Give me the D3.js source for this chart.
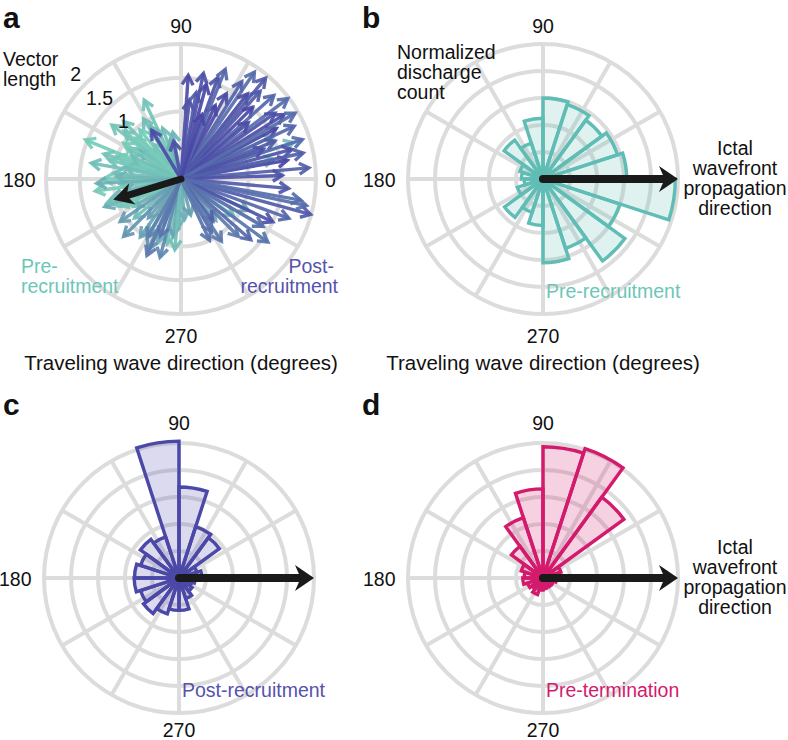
<!DOCTYPE html>
<html><head><meta charset="utf-8">
<script src="https://cdn.jsdelivr.net/npm/d3@7"></script>
<style>body{margin:0;background:#fff}text{font-family:"Liberation Sans",Arial,Helvetica,sans-serif}</style>
</head><body>
<svg id="chart" width="788" height="740"></svg>
<script>
// ---------- DATA ----------
const binStartsDeg = [0,18,36,54,72,90,108,126,144,162,180,198,216,234,252,270,288,306,324,342];
const binWidthDeg = 18;
// normalized discharge counts (outer ring = 1)
const preRecruitment  = [0.62,0.58,0.54,0.58,0.60,0.45,0.28,0.356,0.18,0.16,0.14,0.20,0.352,0.26,0.344,0.62,0.54,0.75,0.60,0.98];
const postRecruitment = [0.17,0.14,0.37,0.40,0.674,1.014,0.32,0.354,0.30,0.33,0.332,0.30,0.326,0.28,0.24,0.24,0.16,0.12,0.10,0.12];
const preTermination  = [0.12,0.14,0.74,1.008,0.972,0.66,0.47,0.29,0.17,0.14,0.15,0.12,0.10,0.13,0.09,0.08,0.07,0.08,0.08,0.10];
const countRings = [0.2,0.4,0.6,0.8,1.0];

// Panel a: traveling-wave vectors (angle in degrees, vector length, colour phase 0=pre ... 1=post)
const preArrowAngles  = [115,122,130,140,150,157.7,162,168,175,160,145,135,185,188,195,203.6,210,220,230,240,250,258,262,268,275,285,110,105,100,128,170,180,200,215,245,18,25,325,310,335,12,148,155,165,178,192,198,205,225,235,255,265,142,120,138,183];
const preArrowLengths = [1.29,1.05,0.95,1.1,0.9,1.53,1.2,0.85,1.0,1.0,0.75,1.2,0.9,1.28,1.05,1.0,0.8,0.9,0.75,0.95,1.0,0.98,0.85,0.7,0.6,0.55,0.8,0.6,0.7,0.65,1.35,1.15,1.2,1.1,1.15,1.75,1.5,0.95,0.8,1.1,1.4,1.0,0.8,1.1,0.95,0.85,1.15,0.9,1.2,1.05,1.2,1.05,1.3,0.9,0.9,1.25];
const preArrowPhase   = [0.05,0.1,0.0,0.05,0.1,0.0,0.05,0.15,0.1,0.0,0.2,0.05,0.1,0.0,0.15,0.05,0.2,0.1,0.3,0.25,0.2,0.05,0.3,0.15,0.2,0.3,0.1,0.2,0.15,0.05,0.1,0.0,0.25,0.35,0.45,0.1,0.2,0.15,0.25,0.3,0.05,0.0,0.1,0.05,0.15,0.2,0.1,0.0,0.4,0.3,0.5,0.1,0.05,0.15,0.0,0.2];
const postArrowAngles  = [86,84,80,75,70,62,58,55.5,52,48,45,42,37,35,32,28,25,22,18,15,10,5,2,355,350,344.7,340,335,330,324,319,315,307,300,295,121,101,246,240,250,65,40,20,78,68,50,30,12,348,303,72];
const postArrowLengths = [1.54,1.17,1.3,1.45,1.6,1.43,1.7,1.92,1.6,1.75,1.5,1.85,1.98,1.7,1.8,1.6,1.85,1.5,1.89,1.7,1.6,1.9,1.5,1.6,1.8,1.99,1.7,1.5,1.4,1.59,1.37,1.2,0.78,0.9,1.0,0.84,0.57,1.24,1.0,0.9,1.2,1.3,1.3,1.6,1.75,1.95,1.95,1.85,1.9,1.1,1.0];
const postArrowPhase   = [0.95,0.9,0.85,1.0,0.9,0.95,0.8,0.7,0.95,0.85,1.0,0.75,0.7,0.9,0.95,1.0,0.75,0.85,0.7,0.9,1.0,0.8,0.9,0.85,0.7,0.85,0.75,0.9,0.7,0.65,0.75,0.6,0.8,0.7,0.65,0.95,0.9,0.6,0.55,0.65,1.0,0.95,0.9,0.9,0.75,0.85,0.7,0.8,0.7,0.6,1.0];
const meanArrowAngle = 197, meanArrowLength = 1.05;
const vectorRings = [0.5,1,1.5,2];
const vectorRingLabels = ["1","1.5","2"];
const vectorRingLabelValues = [1,1.5,2];
const wavefrontAngle = 0;

// ---------- DRAWING ----------
const svg = d3.select("#chart");
const R = 135;
const GRID = "#dcdcdc";
const TEAL = "#5fbdb5", PURPLE = "#4b48a8", PINK = "#d31a6c";
const FS = 19.5;
const rad = d => d * Math.PI / 180;
const polar = (cx, cy, r, deg) => [cx + r * Math.cos(rad(deg)), cy - r * Math.sin(rad(deg))];
const spokes = d3.range(0, 360, 30);

function grid(g, cx, cy, ringRadii) {
  g.selectAll("circle.ring").data(ringRadii).join("circle")
    .attr("cx", cx).attr("cy", cy).attr("r", d => d)
    .attr("fill", "none").attr("stroke", GRID).attr("stroke-width", 4);
  g.selectAll("line.spoke").data(spokes).join("line")
    .attr("x1", cx).attr("y1", cy)
    .attr("x2", d => polar(cx, cy, R, d)[0]).attr("y2", d => polar(cx, cy, R, d)[1])
    .attr("stroke", GRID).attr("stroke-width", 4);
}

function text(g, x, y, s, opts = {}) {
  return g.append("text").attr("x", x).attr("y", y).text(s)
    .attr("font-size", opts.size || FS)
    .attr("font-weight", opts.bold ? "bold" : "normal")
    .attr("text-anchor", opts.anchor || "start")
    .attr("fill", opts.fill || "#111");
}

function bigArrow(g, cx, cy, len, deg, w, headLen, headHalf) {
  const [tx, ty] = polar(cx, cy, len, deg);
  const [sx, sy] = polar(cx, cy, len - headLen + 4, deg);
  g.append("line").attr("x1", cx).attr("y1", cy).attr("x2", sx).attr("y2", sy)
    .attr("stroke", "#1a1a1a").attr("stroke-width", w).attr("stroke-linecap", "round");
  const back = len - headLen;
  const p1 = polar(cx, cy, Math.hypot(back, headHalf), deg + Math.atan2(headHalf, back) * 180 / Math.PI);
  const p2 = polar(cx, cy, back + headLen * 0.3, deg);
  const p3 = polar(cx, cy, Math.hypot(back, headHalf), deg - Math.atan2(headHalf, back) * 180 / Math.PI);
  g.append("polygon").attr("points", [[tx, ty], p1, p2, p3].map(p => p.join(",")).join(" "))
    .attr("fill", "#1a1a1a");
}

function rose(g, cx, cy, values, color) {
  const r = d3.scaleLinear().domain([0, 1]).range([0, R]);
  const arc = d3.arc().innerRadius(0).outerRadius(d => r(d.v))
    .startAngle(d => rad(90 - d.a - binWidthDeg)).endAngle(d => rad(90 - d.a));
  const data = binStartsDeg.map((a, i) => ({ a, v: values[i] }));
  g.append("g").attr("transform", `translate(${cx},${cy})`)
    .selectAll("path").data(data).join("path")
    .attr("d", arc).attr("fill", color).attr("fill-opacity", 0.2)
    .attr("stroke", color).attr("stroke-width", 3.4).attr("stroke-linejoin", "miter");
}

// ----- Panel a -----
{
  const g = svg.append("g");
  const cx = 181, cy = 179;
  const r = d3.scaleLinear().domain([0, 2]).range([0, R]);
  grid(g, cx, cy, vectorRings.map(r));
  const col = d3.interpolateRgb("#76cbb9", "#4a46a6");
  const drawVec = (angles, lens, phase) => {
    angles.forEach((a, i) => {
      const L = r(lens[i]);
      const [tx, ty] = polar(cx, cy, L, a);
      const h = 11;
      const b1 = [tx - h * Math.cos(rad(a - 30)), ty + h * Math.sin(rad(a - 30))];
      const b2 = [tx - h * Math.cos(rad(a + 30)), ty + h * Math.sin(rad(a + 30))];
      const c = col(phase[i]);
      g.append("line").attr("x1", cx).attr("y1", cy).attr("x2", tx).attr("y2", ty)
        .attr("stroke", c).attr("stroke-width", 3.4).attr("stroke-opacity", 0.92);
      g.append("polyline").attr("points", [b1, [tx, ty], b2].map(p => p.join(",")).join(" "))
        .attr("fill", "none").attr("stroke", c).attr("stroke-width", 3.4).attr("stroke-opacity", 0.92)
        .attr("stroke-linejoin", "miter");
    });
  };
  drawVec(preArrowAngles, preArrowLengths, preArrowPhase);
  drawVec(postArrowAngles, postArrowLengths, postArrowPhase);
  bigArrow(g, cx, cy, r(meanArrowLength), meanArrowAngle, 7, 20, 11);
  vectorRingLabels.forEach((s, i) => {
    const [x, y] = polar(cx, cy, r(vectorRingLabelValues[i]) + 14, 135);
    text(g, x, y + 7, s, { anchor: "middle" });
  });
  text(g, 3, 28, "a", { size: 30, bold: true });
  text(g, cx, 33, "90", { anchor: "middle" });
  text(g, 3, 187, "180");
  text(g, 325, 187, "0");
  text(g, cx, 343, "270", { anchor: "middle" });
  text(g, cx, 370, "Traveling wave direction (degrees)", { anchor: "middle", size: 20.5 });
  text(g, 3, 66, "Vector");
  text(g, 3, 86, "length");
  text(g, 21, 273, "Pre-", { fill: "#6cc6b8" });
  text(g, 21, 293, "recruitment", { fill: "#6cc6b8" });
  text(g, 334, 273, "Post-", { fill: "#5553ad", anchor: "end" });
  text(g, 338, 293, "recruitment", { fill: "#5553ad", anchor: "end" });
}

// ----- Panels b, c, d -----
function rosePanel(cx, cy, values, color, labelColor, letter, letterX, letterY, label, showIctal, bottomOffset, topOffset) {
  const g = svg.append("g");
  const r = d3.scaleLinear().domain([0, 1]).range([0, R]);
  grid(g, cx, cy, countRings.map(r));
  rose(g, cx, cy, values, color);
  bigArrow(g, cx, cy, R, wavefrontAngle, 8, 19, 13);
  text(g, letterX, letterY, letter, { size: 30, bold: true });
  text(g, cx, cy - topOffset, "90", { anchor: "middle" });
  text(g, cx - 180, cy + 8, "180");
  text(g, cx, cy + bottomOffset, "270", { anchor: "middle" });
  text(g, cx + 3, cy + 119, label, { fill: labelColor });
  if (showIctal) {
    ["Ictal", "wavefront", "propagation", "direction"].forEach((s, i) =>
      text(g, cx + 192, cy - 24 + i * 20, s, { anchor: "middle" }));
  }
  return g;
}
const gb = rosePanel(543, 179, preRecruitment, TEAL, "#6cc6b8", "b", 362, 28, "Pre-recruitment", true, 164, 146);
text(gb, 543, 370, "Traveling wave direction (degrees)", { anchor: "middle", size: 20.5 });
text(gb, 397, 59, "Normalized");
text(gb, 397, 79, "discharge");
text(gb, 397, 99, "count");
rosePanel(179, 578, postRecruitment, PURPLE, "#5553ad", "c", 3, 415, "Post-recruitment", false, 159, 148);
rosePanel(543, 578, preTermination, PINK, PINK, "d", 362, 415, "Pre-termination", true, 159, 148);
</script>
</body></html>
